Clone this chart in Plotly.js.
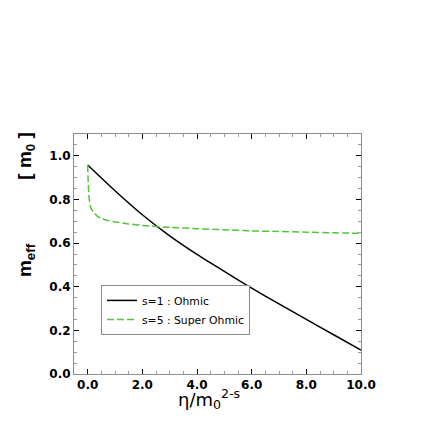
<!DOCTYPE html>
<html>
<head>
<meta charset="utf-8">
<script src="https://cdn.plot.ly/plotly-3.0.1.min.js"></script>
<style>
  html, body { margin: 0; padding: 0; background: #fff; }
  #chart { width: 436px; height: 436px; }
</style>
</head>
<body>
<div id="chart"></div>
<script>
// s=1 (Ohmic) curve
const ohmicX = [0, 1, 2, 3, 4, 5, 6, 7, 8, 9, 10];
const ohmicY = [0.958, 0.840, 0.730, 0.633, 0.548, 0.470, 0.394, 0.321, 0.250, 0.180, 0.110];

// s=5 (super Ohmic) curve: steep drop right after 0, then almost flat
const superX = [0, 0.02, 0.05, 0.1, 0.2, 0.35, 0.5, 0.75, 1, 1.5, 2, 3, 4, 5, 6, 7, 8, 9, 10];
const superY = [0.958, 0.88, 0.81, 0.768, 0.742, 0.724, 0.713, 0.703, 0.697, 0.688, 0.681, 0.672, 0.666, 0.661, 0.656, 0.653, 0.650, 0.647, 0.645];

const xTicks = [0, 2, 4, 6, 8, 10];
const yTicks = [0, 0.2, 0.4, 0.6, 0.8, 1.0];
const legendNames = ["s=1 : Ohmic", "s=5 : Super Ohmic"];

const colors = { ink: "#000000", green: "#55c23c", frame: "#8c8c8c", minor: "#9a9a9a" };
const tickFont = { family: "DejaVu Sans", size: 12, color: "#000", weight: "bold" };

function axis(extra) {
  return {
    showline: true, linecolor: colors.frame, linewidth: 1, mirror: "allticks",
    ticks: "inside", ticklen: 5, tickwidth: 1, tickcolor: colors.ink,
    showgrid: false, zeroline: false, tickfont: tickFont,
    tickmode: "array", tickformat: ".1f",
    ...extra
  };
}

const traces = [
  { x: ohmicX, y: ohmicY, type: "scatter", mode: "lines", name: legendNames[0],
    line: { color: colors.ink, width: 1.5, shape: "spline", smoothing: 0.6 } },
  { x: superX, y: superY, type: "scatter", mode: "lines", name: legendNames[1],
    line: { color: colors.green, width: 1.5, dash: "7px,3px", shape: "spline", smoothing: 0.3 } }
];

const titleFont = { family: "Liberation Sans", size: 19, weight: "bold", color: "#000" };

const layout = {
  width: 436, height: 436,
  margin: { l: 74, r: 75, t: 134, b: 62 },
  paper_bgcolor: "#fff", plot_bgcolor: "#fff",
  font: { family: "DejaVu Sans", color: "#000" },
  showlegend: true,
  legend: {
    x: 0.094, y: 0.267, xanchor: "left", yanchor: "middle",
    bordercolor: colors.frame, borderwidth: 1, bgcolor: "#fff",
    font: { family: "DejaVu Sans", size: 10.8, color: "#000" },
    itemwidth: 30, tracegroupgap: 0
  },
  xaxis: axis({ range: [-0.5, 10], tickvals: xTicks,
    minor: { ticks: "inside", ticklen: 3, tickcolor: colors.minor, dtick: 0.5, showgrid: false } }),
  yaxis: axis({ range: [0, 1.1], tickvals: yTicks,
    minor: { ticks: "inside", ticklen: 3, tickcolor: colors.minor, dtick: 0.05, showgrid: false } }),
  annotations: [
    { text: "m<sub>eff</sub>", xref: "paper", yref: "paper", x: -0.167, y: 0.475,
      xanchor: "center", yanchor: "middle", textangle: -90, showarrow: false, font: titleFont },
    { text: "[ m<sub>0</sub> ]", xref: "paper", yref: "paper", x: -0.167, y: 0.91,
      xanchor: "center", yanchor: "middle", textangle: -90, showarrow: false, font: titleFont },
    { text: "η/m<sub>0</sub><sup>2-s</sup>", xref: "paper", yref: "paper", x: 0.47, y: -0.043,
      xanchor: "center", yanchor: "top", showarrow: false,
      font: { family: "DejaVu Sans", size: 18, color: "#000" } }
  ]
};

Plotly.newPlot("chart", traces, layout, { displayModeBar: false, staticPlot: true });
</script>
</body>
</html>
